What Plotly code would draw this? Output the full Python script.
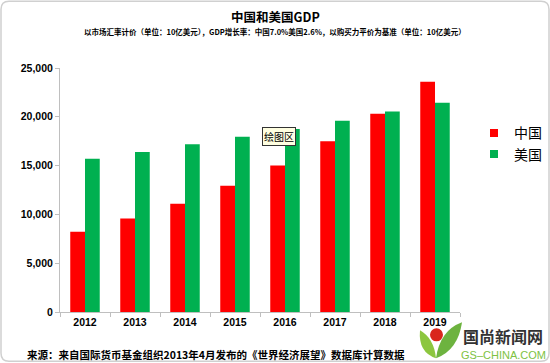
import plotly.graph_objects as go

years = ["2012", "2013", "2014", "2015", "2016", "2017", "2018", "2019"]
china = [8230, 9570, 11100, 12940, 15000, 17500, 20300, 23600]
usa = [15690, 16400, 17200, 17950, 18750, 19600, 20550, 21450]
yticks = [0, 5000, 10000, 15000, 20000, 25000]
ytick_text = ["0", "5,000", "10,000", "15,000", "20,000", "25,000"]
series_names = ["中国", "美国"]
series_colors = ["#FF0000", "#00B050"]

W, H = 550, 363
L, R, T, B = 60, 90, 67.7, 51.3
PW, PH = W - L - R, H - T - B

def xp(px):
    return (px - L) / PW

def yp(py):
    return (H - B - py) / PH

CJK = "Noto Sans CJK SC"

fig = go.Figure()
for name, vals, col in zip(series_names, [china, usa], series_colors):
    fig.add_trace(go.Bar(name=name, x=years, y=vals, showlegend=False,
                         marker=dict(color=col, line=dict(width=0))))
for name, col in zip(series_names, series_colors):
    fig.add_trace(go.Scatter(name=name, x=[None], y=[None], mode="markers",
                             marker=dict(symbol="square", size=8, color=col)))

fig.update_layout(
    width=W, height=H,
    margin=dict(l=L, r=R, t=T, b=B, pad=0, autoexpand=False),
    paper_bgcolor="white", plot_bgcolor="white",
    barmode="group", bargap=0.41, bargroupgap=0,
    showlegend=True,
    legend=dict(x=xp(474), y=yp(117), xanchor="left", yanchor="top",
                font=dict(family=CJK, size=14, color="#000"),
                itemwidth=30, tracegroupgap=0, bgcolor="rgba(0,0,0,0)"),
    xaxis=dict(showline=True, linecolor="#BFBFBF", linewidth=1, ticks="outside",
               tickson="boundaries", ticklen=4, tickcolor="#BFBFBF",
               tickfont=dict(family="Liberation Sans", size=10.5, color="#000", weight="bold"),
               showgrid=False, zeroline=False),
    yaxis=dict(range=[0, 25000], tickvals=yticks, ticktext=ytick_text,
               showline=True, linecolor="#BFBFBF", linewidth=1, ticks="outside",
               ticklen=4, tickcolor="#BFBFBF", showgrid=False, zeroline=False,
               tickfont=dict(family="Liberation Sans", size=10.5, color="#000", weight="bold")),
)

def A(text, x, y, font, xanchor="center", **kw):
    return dict(text=text, x=xp(x), y=yp(y), xref="paper", yref="paper", showarrow=False,
                xanchor=xanchor, yanchor="middle", font=font, **kw)

ann = [
    A("<b>中国和美国GDP</b>", 275, 16, dict(family=CJK, size=12.5, color="#000")),
    A("<b>以市场汇率计价（单位：10亿美元），GDP增长率：中国7.0%美国2.6%，以购买力平价为基准（单位：10亿美元）</b>",
      275, 31, dict(family=CJK, size=7.5, color="#000")),
    A("<b>来源：来自国际货币基金组织2013年4月发布的《世界经济展望》数据库计算数据</b>",
      25, 354, dict(family=CJK, size=10.5, color="#000"), xanchor="left"),
    A("绘图区", 278.5, 136, dict(family=CJK, size=10, color="#000"),
      bgcolor="#FFFFE1", bordercolor="#333333", borderwidth=1, borderpad=1),
    A("<b>国尚新闻网</b>", 503, 336, dict(family=CJK, size=16, color="#333333")),
    A("GS–CHINA.COM", 503, 355, dict(family="Liberation Sans", size=11, color="#7DC242")),
]
fig.update_layout(annotations=ann)

def pt(x, y):
    return f"{xp(x):.4f},{yp(y):.4f}"

shapes = []
r = 8
x0, y0, x1, y1 = 1, 1, 549, 361
path = (f"M {pt(x0 + r, y0)} L {pt(x1 - r, y0)} Q {pt(x1, y0)} {pt(x1, y0 + r)} "
        f"L {pt(x1, y1 - r)} Q {pt(x1, y1)} {pt(x1 - r, y1)} L {pt(x0 + r, y1)} "
        f"Q {pt(x0, y1)} {pt(x0, y1 - r)} L {pt(x0, y0 + r)} Q {pt(x0, y0)} {pt(x0 + r, y0)} Z")
shapes.append(dict(type="path", xref="paper", yref="paper", path=path,
                   line=dict(color="#D0D0D0", width=1.5), fillcolor="rgba(0,0,0,0)", layer="above"))
shapes.append(dict(type="path", xref="paper", yref="paper",
                   path=f"M {pt(436, 358)} Q {pt(418, 352)} {pt(420, 330)} Q {pt(434, 338)} {pt(436, 358)} Z",
                   fillcolor="#8CC63F", line=dict(width=0), layer="above"))
shapes.append(dict(type="path", xref="paper", yref="paper",
                   path=f"M {pt(436, 358)} Q {pt(440, 330)} {pt(462, 322)} Q {pt(458, 350)} {pt(436, 358)} Z",
                   fillcolor="#6DB33F", line=dict(width=0), layer="above"))
shapes.append(dict(type="circle", xref="paper", yref="paper",
                   x0=xp(430), x1=xp(443), y0=yp(341), y1=yp(328),
                   fillcolor="#D9261C", line=dict(width=0), layer="above"))
fig.update_layout(shapes=shapes)

fig.write_html("out.html", config={"displayModeBar": False},
               post_script="document.body.style.margin='0';")
